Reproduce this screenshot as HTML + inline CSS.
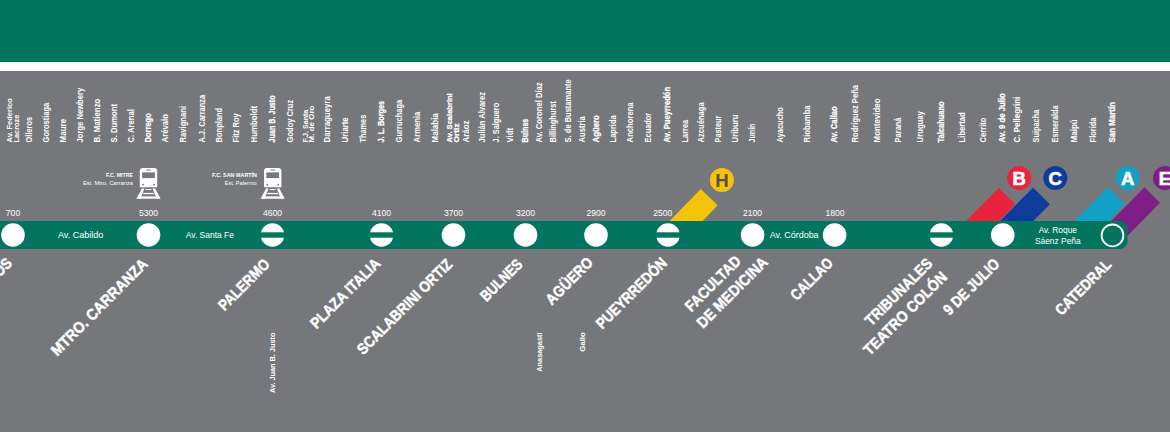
<!DOCTYPE html>
<html><head><meta charset="utf-8"><title>Línea D</title>
<style>
html,body{margin:0;padding:0;background:#76777b;}
body{width:1170px;height:432px;overflow:hidden;font-family:"Liberation Sans", sans-serif;}
svg{display:block;}
text{font-family:"Liberation Sans", sans-serif;}
</style></head><body>
<svg width="1170" height="432" viewBox="0 0 1170 432">
<rect x="0" y="0" width="1170" height="432" fill="#76777b"/>
<rect x="0" y="0" width="1170" height="62" fill="#03745d"/>
<rect x="0" y="62" width="1170" height="9" fill="#ffffff"/>
<g fill="#fff" font-family='"Liberation Sans", sans-serif' font-size="8.3">
<text transform="translate(11.9 142.4) rotate(-90)" font-weight="bold" font-size="7.5" textLength="44.2" lengthAdjust="spacingAndGlyphs">Av. Federico</text>
<text transform="translate(18.7 142.4) rotate(-90)" font-weight="bold" font-size="7.5" textLength="27.6" lengthAdjust="spacingAndGlyphs">Lacroze</text>
<text transform="translate(31.5 142.4) rotate(-90)" font-weight="bold" textLength="25.4" lengthAdjust="spacingAndGlyphs">Olleros</text>
<text transform="translate(48.9 142.4) rotate(-90)" font-weight="bold" textLength="39.7" lengthAdjust="spacingAndGlyphs">Gorostiaga</text>
<text transform="translate(66.3 142.4) rotate(-90)" font-weight="bold" textLength="23.5" lengthAdjust="spacingAndGlyphs">Maure</text>
<text transform="translate(82.5 142.4) rotate(-90)" font-weight="bold" textLength="54.6" lengthAdjust="spacingAndGlyphs">Jorge Newbery</text>
<text transform="translate(100.4 142.4) rotate(-90)" font-weight="bold" textLength="43.8" lengthAdjust="spacingAndGlyphs">B. Matienzo</text>
<text transform="translate(116.5 142.4) rotate(-90)" font-weight="bold" textLength="38.4" lengthAdjust="spacingAndGlyphs">S. Dumont</text>
<text transform="translate(133.5 142.4) rotate(-90)" font-weight="bold" textLength="33.2" lengthAdjust="spacingAndGlyphs">C. Arenal</text>
<text transform="translate(150.5 142.4) rotate(-90)" font-weight="bold" stroke="#fff" stroke-width="0.25" textLength="29.2" lengthAdjust="spacingAndGlyphs">Dorrego</text>
<text transform="translate(167.5 142.4) rotate(-90)" font-weight="bold" textLength="28.4" lengthAdjust="spacingAndGlyphs">Arévalo</text>
<text transform="translate(185.5 142.4) rotate(-90)" font-weight="bold" textLength="36.4" lengthAdjust="spacingAndGlyphs">Ravignani</text>
<text transform="translate(204.9 142.4) rotate(-90)" font-weight="bold" textLength="47.5" lengthAdjust="spacingAndGlyphs">A.J. Carranza</text>
<text transform="translate(221.5 142.4) rotate(-90)" font-weight="bold" textLength="34.5" lengthAdjust="spacingAndGlyphs">Bonpland</text>
<text transform="translate(238.9 142.4) rotate(-90)" font-weight="bold" textLength="29.2" lengthAdjust="spacingAndGlyphs">Fitz Roy</text>
<text transform="translate(256.8 142.4) rotate(-90)" font-weight="bold" textLength="36.4" lengthAdjust="spacingAndGlyphs">Humboldt</text>
<text transform="translate(274.5 142.4) rotate(-90)" font-weight="bold" stroke="#fff" stroke-width="0.25" textLength="47.0" lengthAdjust="spacingAndGlyphs">Juan B. Justo</text>
<text transform="translate(293.3 142.4) rotate(-90)" font-weight="bold" textLength="42.6" lengthAdjust="spacingAndGlyphs">Godoy Cruz</text>
<text transform="translate(307.5 142.4) rotate(-90)" font-weight="bold" font-size="7.5" textLength="32.7" lengthAdjust="spacingAndGlyphs">F.J. Santa</text>
<text transform="translate(313.9 142.4) rotate(-90)" font-weight="bold" font-size="7.5" textLength="36.8" lengthAdjust="spacingAndGlyphs">M. de Oro</text>
<text transform="translate(329.5 142.4) rotate(-90)" font-weight="bold" textLength="46.2" lengthAdjust="spacingAndGlyphs">Darragueyra</text>
<text transform="translate(347.9 142.4) rotate(-90)" font-weight="bold" textLength="25.1" lengthAdjust="spacingAndGlyphs">Uriarte</text>
<text transform="translate(365.7 142.4) rotate(-90)" font-weight="bold" textLength="27.6" lengthAdjust="spacingAndGlyphs">Thames</text>
<text transform="translate(383.9 142.4) rotate(-90)" font-weight="bold" stroke="#fff" stroke-width="0.25" textLength="41.4" lengthAdjust="spacingAndGlyphs">J. L. Borges</text>
<text transform="translate(401.5 142.4) rotate(-90)" font-weight="bold" textLength="42.6" lengthAdjust="spacingAndGlyphs">Gurruchaga</text>
<text transform="translate(420.1 142.4) rotate(-90)" font-weight="bold" textLength="30.8" lengthAdjust="spacingAndGlyphs">Armenia</text>
<text transform="translate(437.9 142.4) rotate(-90)" font-weight="bold" textLength="29.2" lengthAdjust="spacingAndGlyphs">Malabia</text>
<text transform="translate(452.1 142.4) rotate(-90)" font-weight="bold" stroke="#fff" stroke-width="0.25" font-size="7.5" textLength="49.1" lengthAdjust="spacingAndGlyphs">Av. Scalabrini</text>
<text transform="translate(458.6 142.4) rotate(-90)" font-weight="bold" stroke="#fff" stroke-width="0.25" font-size="7.5" textLength="19.0" lengthAdjust="spacingAndGlyphs">Ortiz</text>
<text transform="translate(469.3 142.4) rotate(-90)" font-weight="bold" textLength="21.9" lengthAdjust="spacingAndGlyphs">Aráoz</text>
<text transform="translate(484.9 142.4) rotate(-90)" font-weight="bold" textLength="50.4" lengthAdjust="spacingAndGlyphs">Julián Alvarez</text>
<text transform="translate(498.8 142.4) rotate(-90)" font-weight="bold" textLength="39.6" lengthAdjust="spacingAndGlyphs">J. Salguero</text>
<text transform="translate(512.7 142.4) rotate(-90)" font-weight="bold" textLength="14.4" lengthAdjust="spacingAndGlyphs">Vidt</text>
<text transform="translate(528.0 142.4) rotate(-90)" font-weight="bold" stroke="#fff" stroke-width="0.25" textLength="23.7" lengthAdjust="spacingAndGlyphs">Bulnes</text>
<text transform="translate(541.9 142.4) rotate(-90)" font-weight="bold" textLength="60.1" lengthAdjust="spacingAndGlyphs">Av. Coronel Díaz</text>
<text transform="translate(555.8 142.4) rotate(-90)" font-weight="bold" textLength="41.4" lengthAdjust="spacingAndGlyphs">Billinghurst</text>
<text transform="translate(570.5 142.4) rotate(-90)" font-weight="bold" textLength="63.1" lengthAdjust="spacingAndGlyphs">S. de Bustamante</text>
<text transform="translate(584.8 142.4) rotate(-90)" font-weight="bold" textLength="26.1" lengthAdjust="spacingAndGlyphs">Austria</text>
<text transform="translate(599.0 142.4) rotate(-90)" font-weight="bold" stroke="#fff" stroke-width="0.25" textLength="27.1" lengthAdjust="spacingAndGlyphs">Agüero</text>
<text transform="translate(616.1 142.4) rotate(-90)" font-weight="bold" textLength="27.1" lengthAdjust="spacingAndGlyphs">Laprida</text>
<text transform="translate(633.4 142.4) rotate(-90)" font-weight="bold" textLength="40.0" lengthAdjust="spacingAndGlyphs">Anchorena</text>
<text transform="translate(651.1 142.4) rotate(-90)" font-weight="bold" textLength="29.6" lengthAdjust="spacingAndGlyphs">Ecuador</text>
<text transform="translate(670.3 142.4) rotate(-90)" font-weight="bold" stroke="#fff" stroke-width="0.25" textLength="55.6" lengthAdjust="spacingAndGlyphs">Av. Pueyrredón</text>
<text transform="translate(687.5 142.4) rotate(-90)" font-weight="bold" textLength="22.6" lengthAdjust="spacingAndGlyphs">Larrea</text>
<text transform="translate(704.1 142.4) rotate(-90)" font-weight="bold" textLength="40.0" lengthAdjust="spacingAndGlyphs">Azcuénaga</text>
<text transform="translate(720.5 142.4) rotate(-90)" font-weight="bold" textLength="26.6" lengthAdjust="spacingAndGlyphs">Pasteur</text>
<text transform="translate(738.0 142.4) rotate(-90)" font-weight="bold" textLength="27.8" lengthAdjust="spacingAndGlyphs">Uriburu</text>
<text transform="translate(755.3 142.4) rotate(-90)" font-weight="bold" textLength="18.8" lengthAdjust="spacingAndGlyphs">Junín</text>
<text transform="translate(782.5 142.4) rotate(-90)" font-weight="bold" textLength="35.3" lengthAdjust="spacingAndGlyphs">Ayacucho</text>
<text transform="translate(809.8 142.4) rotate(-90)" font-weight="bold" textLength="37.0" lengthAdjust="spacingAndGlyphs">Riobamba</text>
<text transform="translate(837.0 142.4) rotate(-90)" font-weight="bold" stroke="#fff" stroke-width="0.25" textLength="36.2" lengthAdjust="spacingAndGlyphs">Av. Callao</text>
<text transform="translate(858.4 142.4) rotate(-90)" font-weight="bold" textLength="57.4" lengthAdjust="spacingAndGlyphs">Rodríguez Peña</text>
<text transform="translate(880.3 142.4) rotate(-90)" font-weight="bold" textLength="44.0" lengthAdjust="spacingAndGlyphs">Montevideo</text>
<text transform="translate(901.1 142.4) rotate(-90)" font-weight="bold" textLength="24.9" lengthAdjust="spacingAndGlyphs">Paraná</text>
<text transform="translate(922.8 142.4) rotate(-90)" font-weight="bold" textLength="31.3" lengthAdjust="spacingAndGlyphs">Uruguay</text>
<text transform="translate(943.5 142.4) rotate(-90)" font-weight="bold" stroke="#fff" stroke-width="0.25" textLength="41.0" lengthAdjust="spacingAndGlyphs">Talcahuano</text>
<text transform="translate(964.5 142.4) rotate(-90)" font-weight="bold" textLength="30.1" lengthAdjust="spacingAndGlyphs">Libertad</text>
<text transform="translate(985.8 142.4) rotate(-90)" font-weight="bold" textLength="24.9" lengthAdjust="spacingAndGlyphs">Cerrito</text>
<text transform="translate(1005.2 142.4) rotate(-90)" font-weight="bold" stroke="#fff" stroke-width="0.25" textLength="49.2" lengthAdjust="spacingAndGlyphs">Av. 9 de Julio</text>
<text transform="translate(1019.5 142.4) rotate(-90)" font-weight="bold" textLength="45.7" lengthAdjust="spacingAndGlyphs">C. Pellegrini</text>
<text transform="translate(1039.1 142.4) rotate(-90)" font-weight="bold" textLength="32.7" lengthAdjust="spacingAndGlyphs">Suipacha</text>
<text transform="translate(1058.2 142.4) rotate(-90)" font-weight="bold" textLength="37.0" lengthAdjust="spacingAndGlyphs">Esmeralda</text>
<text transform="translate(1076.8 142.4) rotate(-90)" font-weight="bold" textLength="23.1" lengthAdjust="spacingAndGlyphs">Maipú</text>
<text transform="translate(1095.9 142.4) rotate(-90)" font-weight="bold" textLength="24.9" lengthAdjust="spacingAndGlyphs">Florida</text>
<text transform="translate(1114.5 142.4) rotate(-90)" font-weight="bold" stroke="#fff" stroke-width="0.25" textLength="40.4" lengthAdjust="spacingAndGlyphs">San Martín</text>
</g>
<polygon points="669.6,221 702.6,221 717.6,205.2 700.7,189" fill="#f4c40a"/>
<polygon points="965.7,221.5 998.4,221.5 1015.3,204.2 998.9,187.8" fill="#e8233c"/>
<polygon points="999.6,221.5 1032.9,221.5 1049.8,204.2 1033.1,187.5" fill="#0f3c9b"/>
<polygon points="1074.0,221.5 1108.4,221.5 1125.1,204.3 1107.9,187.1" fill="#12a0c6"/>
<polygon points="1104.7,227.6 1144.5,187.2 1160.0,202.8 1120.3,243.2" fill="#7e1f88"/>
<path d="M0,221 H1119.5 A8,8 0 0 1 1127.5,229 V241 A8,8 0 0 1 1119.5,249 H0 Z" fill="#03745d"/>
<circle cx="13" cy="235" r="11.8" fill="#fff"/>
<circle cx="148.5" cy="235" r="11.8" fill="#fff"/>
<circle cx="272.5" cy="235" r="11.8" fill="#fff"/>
<rect x="259.5" y="232.3" width="26" height="5.4" fill="#03745d"/>
<circle cx="381.5" cy="235" r="11.8" fill="#fff"/>
<rect x="368.5" y="232.3" width="26" height="5.4" fill="#03745d"/>
<circle cx="453.5" cy="235" r="11.8" fill="#fff"/>
<circle cx="525.5" cy="235" r="11.8" fill="#fff"/>
<circle cx="596" cy="235" r="11.8" fill="#fff"/>
<circle cx="668" cy="235" r="11.8" fill="#fff"/>
<rect x="655" y="232.3" width="26" height="5.4" fill="#03745d"/>
<circle cx="752.6" cy="235" r="11.8" fill="#fff"/>
<circle cx="834.6" cy="235" r="11.8" fill="#fff"/>
<circle cx="941.4" cy="235" r="11.8" fill="#fff"/>
<rect x="928.4" y="232.3" width="26" height="5.4" fill="#03745d"/>
<circle cx="1002.75" cy="235" r="11.8" fill="#fff"/>
<circle cx="1112.5" cy="235.4" r="10.9" fill="none" stroke="#fff" stroke-width="1.8"/>
<circle cx="721.9" cy="179.9" r="12" fill="#f4c40a"/>
<text x="721.9" y="186.5" text-anchor="middle" font-family='"Liberation Sans", sans-serif' font-weight="bold" font-size="18.5" fill="#525255" stroke="#525255" stroke-width="0.1">H</text>
<circle cx="1019.2" cy="178" r="12" fill="#e8233c"/>
<text x="1019.2" y="184.6" text-anchor="middle" font-family='"Liberation Sans", sans-serif' font-weight="bold" font-size="18.5" fill="#fff" stroke="#fff" stroke-width="0.6">B</text>
<circle cx="1055.3" cy="178" r="12" fill="#0f3c9b"/>
<text x="1055.3" y="184.6" text-anchor="middle" font-family='"Liberation Sans", sans-serif' font-weight="bold" font-size="18.5" fill="#fff" stroke="#fff" stroke-width="0.6">C</text>
<circle cx="1127.6" cy="178" r="12" fill="#12a0c6"/>
<text x="1127.6" y="184.6" text-anchor="middle" font-family='"Liberation Sans", sans-serif' font-weight="bold" font-size="18.5" fill="#fff" stroke="#fff" stroke-width="0.6">A</text>
<circle cx="1165" cy="178" r="12" fill="#7e1f88"/>
<text x="1165" y="184.6" text-anchor="middle" font-family='"Liberation Sans", sans-serif' font-weight="bold" font-size="18.5" fill="#fff" stroke="#fff" stroke-width="0.6">E</text>
<g fill="#fff" font-family='"Liberation Sans", sans-serif' font-size="8.6" text-anchor="middle">
<text x="13" y="216">700</text>
<text x="148.5" y="216">5300</text>
<text x="272.5" y="216">4600</text>
<text x="381.5" y="216">4100</text>
<text x="453.5" y="216">3700</text>
<text x="525.5" y="216">3200</text>
<text x="596" y="216">2900</text>
<text x="662.8" y="216">2500</text>
<text x="752.6" y="216">2100</text>
<text x="835.1" y="216">1800</text>
</g>
<g fill="#fff" font-family='"Liberation Sans", sans-serif' font-size="8.4">
<text x="58" y="238" textLength="45.4" lengthAdjust="spacingAndGlyphs">Av. Cabildo</text>
<text x="185.8" y="238" textLength="48.2" lengthAdjust="spacingAndGlyphs">Av. Santa Fe</text>
<text x="769.7" y="237.8" textLength="48.9" lengthAdjust="spacingAndGlyphs">Av. Córdoba</text>
<text x="1057.8" y="232.8" text-anchor="middle">Av. Roque</text>
<text x="1057.8" y="243.5" text-anchor="middle">Sáenz Peña</text>
</g>
<g fill="#fff" font-family='"Liberation Sans", sans-serif' font-weight="bold" font-size="15.5" stroke="#fff" stroke-width="0.45">
<text transform="translate(13 264.3) rotate(-45)" text-anchor="end" textLength="64" lengthAdjust="spacingAndGlyphs">OLLEROS</text>
<text transform="translate(148.8 265) rotate(-45)" text-anchor="end" textLength="129.6" lengthAdjust="spacingAndGlyphs">MTRO. CARRANZA</text>
<text transform="translate(270.7 265.2) rotate(-45)" text-anchor="end" textLength="65.5" lengthAdjust="spacingAndGlyphs">PALERMO</text>
<text transform="translate(381.5 264.4) rotate(-45)" text-anchor="end" textLength="92" lengthAdjust="spacingAndGlyphs">PLAZA ITALIA</text>
<text transform="translate(453.3 265.3) rotate(-45)" text-anchor="end" textLength="127.5" lengthAdjust="spacingAndGlyphs">SCALABRINI ORTIZ</text>
<text transform="translate(523.5 265.4) rotate(-45)" text-anchor="end" textLength="52.2" lengthAdjust="spacingAndGlyphs">BULNES</text>
<text transform="translate(594 263.5) rotate(-45)" text-anchor="end" textLength="59.6" lengthAdjust="spacingAndGlyphs">AGÜERO</text>
<text transform="translate(668 264) rotate(-45)" text-anchor="end" textLength="93" lengthAdjust="spacingAndGlyphs">PUEYRREDÓN</text>
<text transform="translate(691.3 312.6) rotate(-45)" text-anchor="start" textLength="71.5" lengthAdjust="spacingAndGlyphs">FACULTAD</text>
<text transform="translate(703 329) rotate(-45)" text-anchor="start" textLength="93" lengthAdjust="spacingAndGlyphs">DE MEDICINA</text>
<text transform="translate(834 264) rotate(-45)" text-anchor="end" textLength="52.6" lengthAdjust="spacingAndGlyphs">CALLAO</text>
<text transform="translate(933.5 264.5) rotate(-45)" text-anchor="end" textLength="88" lengthAdjust="spacingAndGlyphs">TRIBUNALES</text>
<text transform="translate(948 278.2) rotate(-45)" text-anchor="end" textLength="110.5" lengthAdjust="spacingAndGlyphs">TEATRO COLÓN</text>
<text transform="translate(1000.5 265) rotate(-45)" text-anchor="end" textLength="72.3" lengthAdjust="spacingAndGlyphs">9 DE JULIO</text>
<text transform="translate(1112.2 265.5) rotate(-45)" text-anchor="end" textLength="71.6" lengthAdjust="spacingAndGlyphs">CATEDRAL</text>
</g>
<g fill="#fff" font-family='"Liberation Sans", sans-serif' font-size="6.5">
<text transform="translate(275.4 393.1) rotate(-90)" font-weight="bold" textLength="60.5" lengthAdjust="spacingAndGlyphs">Av. Juan B. Justo</text>
<text transform="translate(541.6 371.7) rotate(-90)" font-weight="bold" textLength="39.2" lengthAdjust="spacingAndGlyphs">Anasagasti</text>
<text transform="translate(584.5 351.7) rotate(-90)" font-weight="bold" textLength="19.5" lengthAdjust="spacingAndGlyphs">Gallo</text>
</g>
<g transform="translate(139.8 168)" fill="#fff">
<path d="M0,3 Q0,0 3,0 H14.4 Q17.4,0 17.4,3 V19.3 H0 Z"/>
<rect x="6.3" y="1.5" width="4.8" height="1.1" rx="0.5" fill="#76777b"/>
<rect x="2.3" y="4.4" width="12.8" height="5.7" fill="#76777b"/>
<circle cx="3.2" cy="16.7" r="0.9" fill="#76777b"/>
<circle cx="14.2" cy="16.7" r="0.9" fill="#76777b"/>
<rect x="5.8" y="21" width="5.8" height="1.1"/>
<polygon points="2.1,20.5 4.6,20.5 0.6,30.7 -3.4,30.7"/>
<polygon points="12.8,20.5 15.3,20.5 20.8,30.7 16.8,30.7"/>
<rect x="3.4" y="24.9" width="10.6" height="1.3"/>
<rect x="-1.5" y="28.4" width="20.4" height="2.3"/>
</g>
<g transform="translate(264.0 168)" fill="#fff">
<path d="M0,3 Q0,0 3,0 H14.4 Q17.4,0 17.4,3 V19.3 H0 Z"/>
<rect x="6.3" y="1.5" width="4.8" height="1.1" rx="0.5" fill="#76777b"/>
<rect x="2.3" y="4.4" width="12.8" height="5.7" fill="#76777b"/>
<circle cx="3.2" cy="16.7" r="0.9" fill="#76777b"/>
<circle cx="14.2" cy="16.7" r="0.9" fill="#76777b"/>
<rect x="5.8" y="21" width="5.8" height="1.1"/>
<polygon points="2.1,20.5 4.6,20.5 0.6,30.7 -3.4,30.7"/>
<polygon points="12.8,20.5 15.3,20.5 20.8,30.7 16.8,30.7"/>
<rect x="3.4" y="24.9" width="10.6" height="1.3"/>
<rect x="-1.5" y="28.4" width="20.4" height="2.3"/>
</g>
<g fill="#fff" font-family='"Liberation Sans", sans-serif' font-size="5.6" text-anchor="end">
<text x="132.9" y="177" font-weight="bold" textLength="27" lengthAdjust="spacingAndGlyphs">F.C. MITRE</text>
<text x="132.9" y="185.1" textLength="50" lengthAdjust="spacingAndGlyphs">Est. Mtro. Carranza</text>
<text x="257" y="177" font-weight="bold" textLength="45" lengthAdjust="spacingAndGlyphs">F.C. SAN MARTÍN</text>
<text x="256.7" y="185.1" textLength="32" lengthAdjust="spacingAndGlyphs">Est. Palermo</text>
</g>
</svg>
</body></html>
